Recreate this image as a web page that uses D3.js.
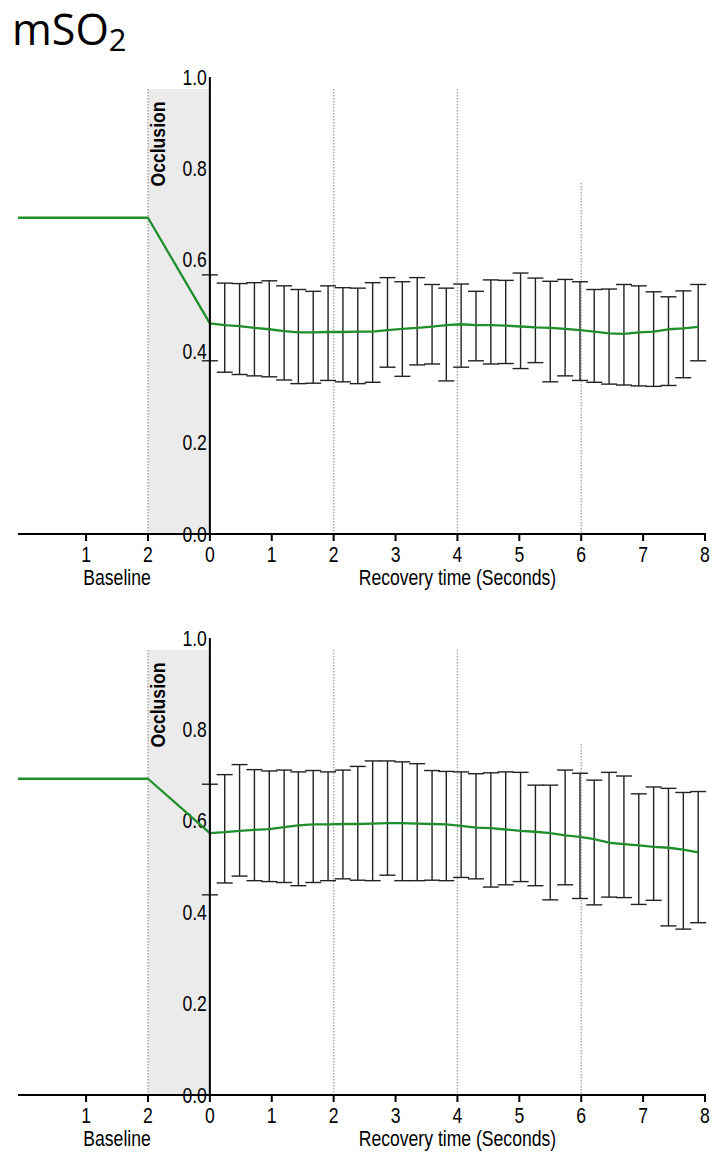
<!DOCTYPE html>
<html><head><meta charset="utf-8">
<script src="https://cdn.jsdelivr.net/npm/d3@7"></script>
<style>body{margin:0;background:#fff}</style>
</head><body><svg id="c" width="723" height="1153"></svg>
<script>
// ---- data ----
const times = [0, 0.24, 0.48, 0.72, 0.96, 1.20, 1.43, 1.67, 1.91, 2.15, 2.39, 2.63, 2.87, 3.11, 3.35, 3.59, 3.82,
  4.06, 4.30, 4.54, 4.78, 5.02, 5.26, 5.50, 5.74, 5.98, 6.21, 6.45, 6.69, 6.93, 7.17, 7.41, 7.65, 7.89];
const baselineTicks = [-2, -1];
const baselineTickLabels = ["1", "2"];
const recoveryTicks = [0, 1, 2, 3, 4, 5, 6, 7, 8];
const yTicks = [0, 0.2, 0.4, 0.6, 0.8, 1.0];
const baselineStart = -3.1;      // left end of the baseline segment (axis units)
const baselineEnd = -1;          // occlusion start
const guideTimes = [2, 4, 6];
const guideTops = [0.974, 0.974, 0.768];
const occlusionTop = 0.974;

const topBaseline = 0.692;
const topMean = [0.461, 0.457, 0.455, 0.451, 0.448, 0.444, 0.441, 0.441, 0.442, 0.442, 0.443, 0.443, 0.446, 0.449, 0.451, 0.454, 0.457,
  0.459, 0.457, 0.457, 0.456, 0.454, 0.452, 0.451, 0.449, 0.446, 0.443, 0.439, 0.438, 0.441, 0.443, 0.448, 0.450, 0.453];
const topUpper = [0.567, 0.549, 0.548, 0.550, 0.554, 0.543, 0.535, 0.531, 0.543, 0.539, 0.538, 0.550, 0.561, 0.552, 0.561, 0.546, 0.538,
  0.547, 0.531, 0.556, 0.555, 0.571, 0.560, 0.553, 0.557, 0.552, 0.535, 0.536, 0.546, 0.543, 0.530, 0.519, 0.532, 0.546];
const topLower = [0.379, 0.354, 0.349, 0.346, 0.344, 0.337, 0.329, 0.330, 0.336, 0.333, 0.329, 0.332, 0.365, 0.345, 0.370, 0.372, 0.335,
  0.365, 0.379, 0.372, 0.373, 0.362, 0.375, 0.333, 0.346, 0.336, 0.332, 0.328, 0.326, 0.324, 0.323, 0.325, 0.342, 0.379];

const bottomBaseline = 0.692;
const bottomMean = [0.573, 0.575, 0.578, 0.580, 0.582, 0.586, 0.590, 0.592, 0.592, 0.593, 0.593, 0.594, 0.595, 0.595, 0.594, 0.593, 0.592,
  0.589, 0.585, 0.584, 0.581, 0.578, 0.576, 0.573, 0.568, 0.565, 0.560, 0.552, 0.549, 0.546, 0.543, 0.541, 0.537, 0.531];
const bottomUpper = [0.680, 0.701, 0.723, 0.712, 0.709, 0.711, 0.707, 0.710, 0.707, 0.711, 0.719, 0.731, 0.731, 0.729, 0.725, 0.710, 0.708,
  0.707, 0.703, 0.705, 0.707, 0.706, 0.678, 0.678, 0.711, 0.704, 0.689, 0.706, 0.698, 0.659, 0.674, 0.671, 0.662, 0.664];
const bottomLower = [0.438, 0.464, 0.479, 0.469, 0.467, 0.465, 0.458, 0.465, 0.469, 0.473, 0.470, 0.469, 0.481, 0.469, 0.469, 0.470, 0.469,
  0.476, 0.473, 0.455, 0.460, 0.467, 0.458, 0.427, 0.460, 0.430, 0.416, 0.433, 0.432, 0.417, 0.426, 0.370, 0.363, 0.377];

// ---- drawing ----
const svg = d3.select("#c");
const FONT = "'Liberation Sans',Arial,sans-serif";
const GREEN = "#1f8f2c";
const SX = 0.88;   // horizontal condensing of the label font
const SY = 1.06;   // slight vertical stretch of the label font

const title = svg.append("text").attr("x", 12).attr("y", 45)
  .style("font-family", "'Open Sans','Noto Sans',sans-serif").style("font-size", "43px").attr("fill", "#000");
title.append("tspan").text("mSO");
title.append("tspan").attr("dy", 6).style("font-size", "31px").text("2");

const x = d3.scaleLinear().domain([baselineStart, 8]).range([18, 705]);

function label(g, px, py, txt, anchor, size) {
  return g.append("text").attr("transform", `translate(${px},${py}) scale(${SX},${SY})`)
    .attr("text-anchor", anchor).style("font-family", FONT).style("font-size", size + "px").text(txt);
}

function panel(yPix0, yPix1, baseLevel, mean, upper, lower) {
  const y = d3.scaleLinear().domain([0, 1]).range([yPix0, yPix1]);
  const g = svg.append("g");

  g.append("rect").attr("x", x(baselineEnd)).attr("y", y(occlusionTop))
    .attr("width", x(0) - x(baselineEnd)).attr("height", y(0) - y(occlusionTop)).attr("fill", "#ebebeb");

  const dots = [baselineEnd].concat(guideTimes);
  const dotTops = [occlusionTop].concat(guideTops);
  g.selectAll("line.guide").data(dots).join("line").attr("class", "guide")
    .attr("x1", d => x(d)).attr("x2", d => x(d))
    .attr("y1", (d, i) => y(dotTops[i])).attr("y2", y(0))
    .attr("stroke", "#ababab").attr("stroke-width", 1.5).attr("stroke-dasharray", "1.5,1.5");

  // y tick labels
  yTicks.forEach(d => label(g, x(0) - 3, y(d) + 7.5, d3.format(".1f")(d), "end", 20));

  // error bars
  const eb = g.append("g").attr("stroke", "#222").attr("stroke-width", 1.4);
  times.forEach((t, i) => {
    const cx = x(t);
    eb.append("line").attr("x1", cx).attr("x2", cx).attr("y1", y(lower[i])).attr("y2", y(upper[i]));
    eb.append("line").attr("x1", cx - 8).attr("x2", cx + 8).attr("y1", y(upper[i])).attr("y2", y(upper[i]));
    eb.append("line").attr("x1", cx - 8).attr("x2", cx + 8).attr("y1", y(lower[i])).attr("y2", y(lower[i]));
  });

  // green mean line
  const pts = [[baselineStart, baseLevel], [baselineEnd, baseLevel]].concat(times.map((t, i) => [t, mean[i]]));
  g.append("path").datum(pts)
    .attr("d", d3.line().x(d => x(d[0])).y(d => y(d[1])))
    .attr("fill", "none").attr("stroke", GREEN).attr("stroke-width", 2.3).attr("stroke-linejoin", "round");

  // axes
  g.append("line").attr("x1", x(0)).attr("x2", x(0)).attr("y1", y(1)).attr("y2", y(0))
    .attr("stroke", "#000").attr("stroke-width", 2);
  g.append("line").attr("x1", x(baselineStart)).attr("x2", x(8) + 1).attr("y1", y(0)).attr("y2", y(0))
    .attr("stroke", "#000").attr("stroke-width", 2);

  const allTicks = baselineTicks.concat(recoveryTicks);
  const allLabels = baselineTickLabels.concat(recoveryTicks.map(String));
  g.selectAll("line.xt").data(allTicks).join("line").attr("class", "xt")
    .attr("x1", d => x(d)).attr("x2", d => x(d)).attr("y1", y(0)).attr("y2", y(0) + 7)
    .attr("stroke", "#000").attr("stroke-width", 2);
  allTicks.forEach((d, i) => label(g, x(d), y(0) + 28, allLabels[i], "middle", 20));

  label(g, (x(baselineTicks[0]) + x(baselineTicks[1])) / 2, y(0) + 51, "Baseline", "middle", 20);
  label(g, x(4), y(0) + 51, "Recovery time (Seconds)", "middle", 20);

  g.append("text").attr("transform", `translate(${x(baselineEnd) + 17},${y(0) - 390}) rotate(-90) scale(${SX},1)`)
    .attr("text-anchor", "middle").style("font-family", FONT).style("font-size", "20px")
    .style("font-weight", "bold").text("Occlusion");
}

panel(534, 77, topBaseline, topMean, topUpper, topLower);
panel(1095, 638, bottomBaseline, bottomMean, bottomUpper, bottomLower);
</script></body></html>
